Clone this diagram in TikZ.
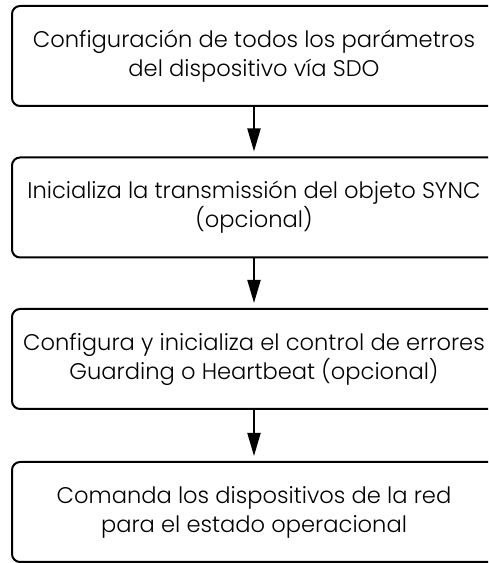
\documentclass[tikz,border=0pt]{standalone}
\usepackage{fontspec}
\setmainfont{Poppins}[UprightFont=* Light]
\usetikzlibrary{arrows.meta}
\begin{document}
\begin{tikzpicture}[x=1pt,y=1pt,
  stepbox/.style={draw, line width=2pt, rounded corners=8pt, minimum width=484pt, minimum height=100pt, align=center, inner sep=0pt,
    font=\fontsize{22.6}{29}\selectfont},
  flow/.style={line width=2pt, -{Triangle[length=23pt,width=13pt]}, shorten >=5pt}]
\useasboundingbox (0,0) rectangle (488,563);
\clip (0,0) rectangle (488,563);
\node[stepbox] (b1) at (254,507) {Configuración de todos los parámetros\\del dispositivo vía SDO};
\node[stepbox] (b2) at (254,355.5) {Inicializa la transmissión del objeto SYNC\\(opcional)};
\node[stepbox] (b3) at (254,204) {Configura y inicializa el control de errores\\Guarding o Heartbeat (opcional)};
\node[stepbox] (b4) at (254,51) {Comanda los dispositivos de la red\\para el estado operacional};
\draw[flow] (b1) -- (b2);
\draw[flow] (b2) -- (b3);
\draw[flow] (b3) -- (b4);
\end{tikzpicture}
\end{document}
